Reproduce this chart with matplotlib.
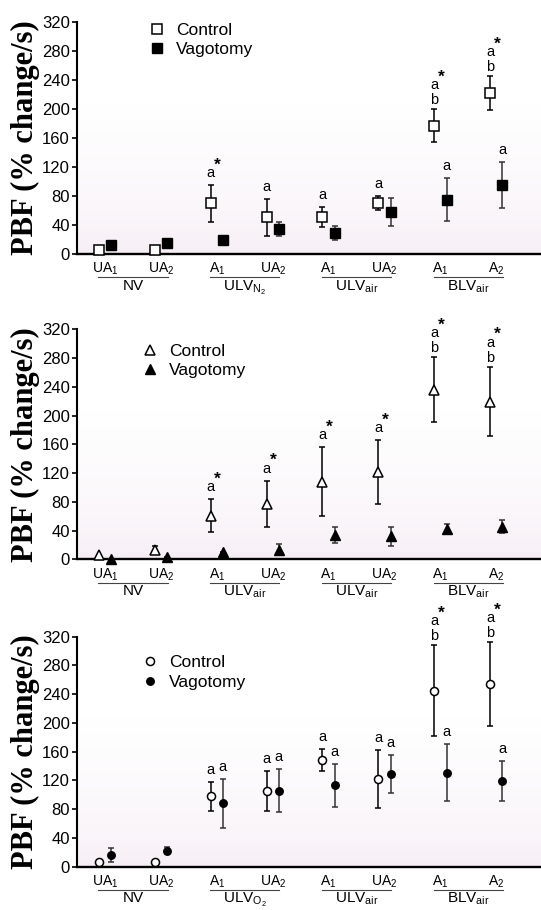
import numpy as np
import matplotlib
matplotlib.use("Agg")
from matplotlib import pyplot as plt
from matplotlib import transforms
from matplotlib.colors import LinearSegmentedColormap

plt.rcParams["font.family"] = ["Liberation Sans", "DejaVu Sans"]
plt.rcParams["mathtext.default"] = "regular"

# --- data ------------------------------------------------------------------
tick_labels = ["UA$_1$", "UA$_2$", "A$_1$", "UA$_2$", "A$_1$", "UA$_2$", "A$_1$", "A$_2$"]

groups_1 = ["NV", r"ULV$_{\mathregular{N_2}}$", "ULV$_{air}$", "BLV$_{air}$"]
groups_2 = ["NV", "ULV$_{air}$", "ULV$_{air}$", "BLV$_{air}$"]
groups_3 = ["NV", r"ULV$_{\mathregular{O_2}}$", "ULV$_{air}$", "BLV$_{air}$"]

ctrl_1 = [6, 6, 70, 51, 51, 70, 177, 222]
ctrl_err_1 = [0, 0, 25.5, 25.5, 14, 9.5, 23, 23.5]
vag_1 = [12, 15.5, 19.5, 35, 29, 58, 75, 95.5]
vag_err_1 = [0, 0, 0, 9.5, 9.5, 19, 30, 31.5]

ctrl_2 = [6, 13, 60.5, 77, 108, 121.5, 236, 219.5]
ctrl_err_2 = [0, 5.5, 23, 32.5, 48, 44.5, 45, 48.5]
vag_2 = [1, 2.5, 10, 13.5, 33.5, 32, 42, 45.5]
vag_err_2 = [0, 0, 0, 7.5, 11.5, 13.5, 7, 9]

ctrl_3 = [7, 7, 98, 105, 148, 122, 245, 254]
ctrl_err_3 = [0, 0, 20.5, 28, 15.5, 40, 63.5, 58.5]
vag_3 = [16, 22, 88, 106, 113, 128.5, 131, 119]
vag_err_3 = [9.5, 5, 33.5, 29.5, 30, 26.5, 40, 27.5]

# significance letters: "a", "a*" or "ab*" (a over b, with star)
ctrl_marks_1 = ["", "", "a*", "a", "a", "a", "ab*", "ab*"]
vag_marks_1 = ["", "", "", "", "", "", "a", "a"]
ctrl_marks_2 = ["", "", "a*", "a*", "a*", "a*", "ab*", "ab*"]
vag_marks_2 = ["", "", "", "", "", "", "", ""]
ctrl_marks_3 = ["", "", "a", "a", "a", "a", "ab*", "ab*"]
vag_marks_3 = ["", "", "a", "a", "a", "a", "a", "a"]

PX = 0.72  # points per pixel at 100 dpi
OFF = 0.11
bg_cmap = LinearSegmentedColormap.from_list("bg", ["#f5ecf4", "#ffffff"])


def mark(ax, x, top, code):
    if not code:
        return
    kw = dict(textcoords="offset points", ha="center", va="baseline", fontsize=10.5)
    if "b" in code:
        ax.annotate("b", (x, top), xytext=(0, 5 * PX), **kw)
        base = 20
    else:
        base = 8
    ax.annotate("a", (x, top), xytext=(0, base * PX), **kw)
    if "*" in code:
        ax.annotate("*", (x, top), xytext=(7 * PX, (base + 12) * PX),
                    textcoords="offset points", ha="center", va="center",
                    fontsize=12.5, fontweight="bold")


def panel(rect, marker, ms, ctrl, ctrl_err, vag, vag_err, ctrl_marks, vag_marks,
          groups, leg_xy):
    ax = fig.add_axes(rect)
    x = np.arange(len(ctrl))
    grad = np.linspace(0, 1, 300).reshape(-1, 1)
    grad = np.sqrt(np.clip(grad / 0.65, 0, 1))
    ax.imshow(grad, extent=[0, 1, 0, 1], transform=ax.transAxes, origin="lower",
              cmap=bg_cmap, aspect="auto", zorder=0, interpolation="bilinear")

    ax.errorbar(x - OFF, ctrl, yerr=ctrl_err, fmt="none", ecolor="black",
                elinewidth=1.1, capsize=2.5, capthick=1.1, zorder=3, clip_on=False)
    ax.errorbar(x + OFF, vag, yerr=vag_err, fmt="none", ecolor="#333333",
                elinewidth=1.1, capsize=2.5, capthick=1.1, zorder=3, clip_on=False)
    hc, = ax.plot(x - OFF, ctrl, marker, ms=ms[0], mfc="white", mec="black",
                  mew=1.1, label="Control", zorder=4, clip_on=False)
    hv, = ax.plot(x + OFF, vag, marker, ms=ms[1], mfc="black", mec="black",
                  label="Vagotomy", zorder=4, clip_on=False)

    for i in x:
        mark(ax, i - OFF, ctrl[i] + ctrl_err[i], ctrl_marks[i])
        mark(ax, i + OFF, vag[i] + vag_err[i], vag_marks[i])

    ax.set_xlim(-0.5, 7.8)
    ax.set_ylim(0, 320)
    ax.set_yticks(np.arange(0, 321, 40))
    ax.set_xticks(x, tick_labels)
    ax.tick_params(axis="x", length=0, pad=5, labelsize=10)
    ax.tick_params(axis="y", length=3.6, width=1.2, pad=1.5, labelsize=12)
    for s in ["top", "right"]:
        ax.spines[s].set_visible(False)
    ax.spines["left"].set_linewidth(1.5)
    ax.spines["bottom"].set_linewidth(1.7)

    ax.set_ylabel("PBF (% change/s)", family=["Liberation Serif", "DejaVu Serif"],
                  fontweight="bold", fontsize=22, va="center")
    ax.yaxis.set_label_coords(-0.112, 0.5)

    trans = transforms.blended_transform_factory(ax.transData, ax.transAxes)
    for g, name in enumerate(groups):
        a, b = 2 * g, 2 * g + 1
        ax.plot([a - 0.12, b + 0.12], [-0.101, -0.101], color="#444444", lw=0.8,
                transform=trans, clip_on=False)
        ax.text((a + b) / 2, -0.106, name, transform=trans, ha="center", va="top",
                fontsize=11)

    ax.legend(handles=[hc, hv], loc="upper left", bbox_to_anchor=leg_xy,
              frameon=False, handlelength=1.0, handletextpad=0.6, labelspacing=0.25,
              borderpad=0, borderaxespad=0, fontsize=12.5, numpoints=1)
    return ax


fig = plt.figure(figsize=(5.41, 9.10), dpi=100)
left, width = 0.1423, 0.8577

panel([left, 0.7209, width, 0.2547], "s", (6.7, 7.2), ctrl_1, ctrl_err_1, vag_1,
      vag_err_1, ctrl_marks_1, vag_marks_1, groups_1, (0.153, 0.998))
panel([left, 0.3854, width, 0.2527], "^", (7.5, 7.8), ctrl_2, ctrl_err_2, vag_2,
      vag_err_2, ctrl_marks_2, vag_marks_2, groups_2, (0.138, 0.937))
panel([left, 0.0476, width, 0.2527], "o", (5.8, 5.4), ctrl_3, ctrl_err_3, vag_3,
      vag_err_3, ctrl_marks_3, vag_marks_3, groups_3, (0.138, 0.920))

fig.savefig("out.png", dpi=100)
